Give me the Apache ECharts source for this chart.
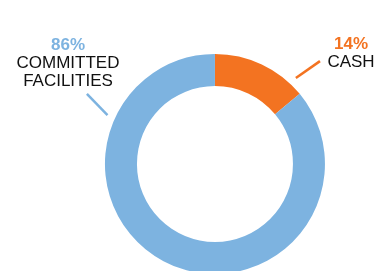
<!DOCTYPE html>
<html>
<head>
<meta charset="utf-8">
<script src="https://cdn.jsdelivr.net/npm/echarts@6/dist/echarts.min.js"></script>
<style>
  html, body { margin: 0; padding: 0; background: #fff; }
  #main { width: 388px; height: 271px; }
</style>
</head>
<body>
<div id="main"></div>
<script>
// data
const categories = ['CASH', 'COMMITTED FACILITIES']
const shares = [14, 86]
const colors = ['#F37321', '#7DB3E0']

// where each label sits and where its guide line runs (angle from top, radius)
const labelPos = [
  { x: 351, y: 53 },
  { x: 68, y: 63 }
]
const guide = [
  [[43.3, 118], [45.6, 147]],
  [[-65.6, 118], [-61.3, 146]]
]

const chart = echarts.init(document.getElementById('main'))
const CENTER = ['55.4%', '60.5%']

function polar(angleDeg, r) {
  const cx = chart.getWidth() * 0.554
  const cy = chart.getHeight() * 0.605
  const a = angleDeg * Math.PI / 180
  return [cx + r * Math.sin(a), cy - r * Math.cos(a)]
}

const font = '"Liberation Sans", Arial, Helvetica, sans-serif'

var option = {
  animation: false,
  series: [
    {
      type: 'pie',
      center: CENTER,
      radius: [78, 110],
      startAngle: 90,
      clockwise: true,
      silent: true,
      avoidLabelOverlap: false,
      itemStyle: { borderWidth: 0 },
      label: {
        show: true,
        position: 'outside',
        fontFamily: font,
        formatter: (p) => {
          const c = p.dataIndex === 0 ? 'po' : 'pb'
          return '{' + c + '|' + p.value + '%}\n{n|' + p.name.split(' ').join('}\n{n|') + '}'
        },
        rich: {
          po: { fontFamily: font, fontSize: 17, fontWeight: 'bold', color: colors[0], lineHeight: 18, align: 'center' },
          pb: { fontFamily: font, fontSize: 17, fontWeight: 'bold', color: colors[1], lineHeight: 18, align: 'center' },
          n: { fontFamily: font, fontSize: 17, color: '#111', lineHeight: 18, align: 'center' }
        }
      },
      labelLine: {
        show: true,
        lineStyle: { width: 2.5 }
      },
      labelLayout: (params) => {
        const i = params.dataIndex
        return {
          x: labelPos[i].x,
          y: labelPos[i].y,
          align: 'center',
          verticalAlign: 'middle',
          labelLinePoints: guide[i].map((g) => polar(g[0], g[1]))
        }
      },
      data: categories.map((name, i) => ({
        name: name,
        value: shares[i],
        itemStyle: { color: colors[i] },
        labelLine: { lineStyle: { color: colors[i] } }
      }))
    }
  ]
}
option && chart.setOption(option)
</script>
</body>
</html>
